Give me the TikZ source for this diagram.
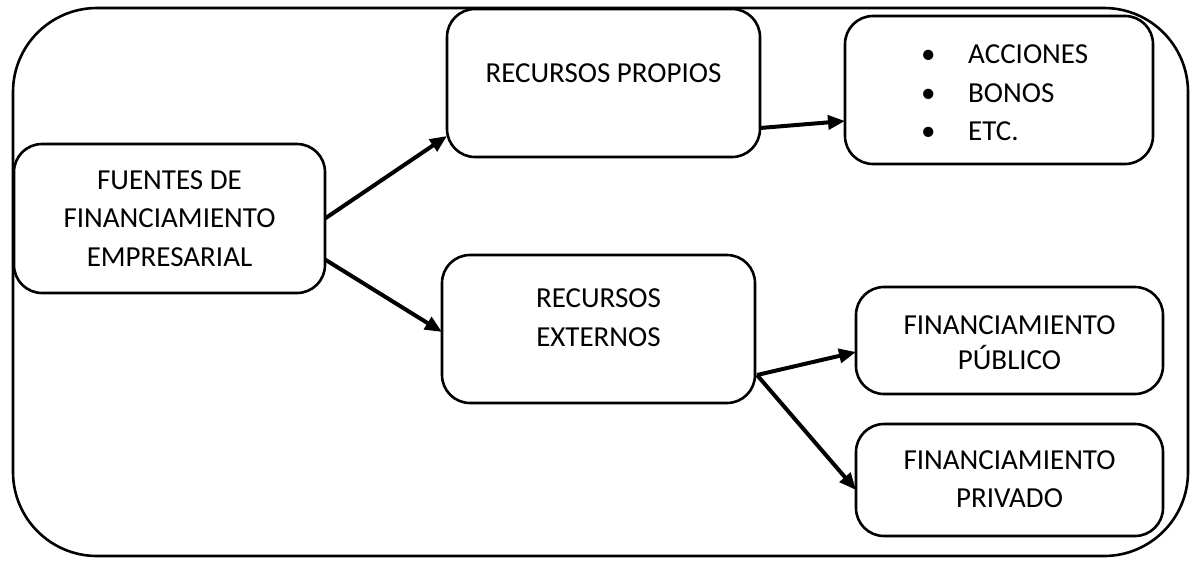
\documentclass[tikz,border=0pt]{standalone}
\usepackage{fontspec}
\setmainfont{Carlito}
\usetikzlibrary{arrows.meta,calc}
\begin{document}
\begin{tikzpicture}[x=1pt,y=-1pt,
  box/.style={draw,line width=2.6pt,rounded corners=28pt,inner sep=0pt,outer sep=0pt},
  txt/.style={align=center,font=\fontsize{29}{38.5}\selectfont,inner sep=0pt},
  conn/.style={line width=4pt,-{Triangle[length=17pt,width=14pt]}}]
\useasboundingbox (0,0) rectangle (1195,560);
\draw[line width=2.6pt,rounded corners=84pt] (13,8) rectangle (1188,556);
\node[box,minimum width=311pt,minimum height=149pt] (fuentes) at (169.5,218.5) {};
\node[box,minimum width=313pt,minimum height=148pt] (propios) at (603.5,83) {};
\node[box,minimum width=308pt,minimum height=148pt] (bullets) at (999,90) {};
\node[box,minimum width=313pt,minimum height=148pt] (externos) at (598.5,329) {};
\node[box,minimum width=307pt,minimum height=107pt] (publico) at (1009.5,340.5) {};
\node[box,minimum width=307pt,minimum height=112pt] (privado) at (1009.5,480) {};
\node[txt] (tfuentes) at (fuentes.center) {FUENTES DE\\FINANCIAMIENTO\\EMPRESARIAL};
\node[txt] (tpropios) at ([yshift=10pt]propios.center) {RECURSOS PROPIOS};
\node[txt] (texternos) at ([yshift=11.5pt]externos.center) {RECURSOS\\EXTERNOS};
\node[txt,font=\fontsize{29}{35}\selectfont] (tpublico) at ([yshift=-2pt]publico.center) {FINANCIAMIENTO\\PÚBLICO};
\node[txt,font=\fontsize{29}{38}\selectfont] (tprivado) at ([yshift=1pt]privado.center) {FINANCIAMIENTO\\PRIVADO};
\node[txt,align=left,anchor=west] (tbullets) at ([yshift=-3pt,xshift=76pt]bullets.west)
  {\makebox[47pt][l]{•}ACCIONES\\\makebox[47pt][l]{•}BONOS\\\makebox[47pt][l]{•}ETC.};
\draw[conn] (fuentes.east) -- ([yshift=-53pt]propios.west);
\draw[conn] ([yshift=-41pt]fuentes.east) -- ([yshift=-3pt]externos.west);
\draw[conn] ([yshift=-45pt]propios.east) -- ([yshift=-31pt]bullets.west);
\draw[conn] ([yshift=-46pt,xshift=2pt]externos.east) -- ([yshift=-11.5pt]publico.west);
\draw[conn] ([yshift=-46pt,xshift=2pt]externos.east) -- ([yshift=-10pt]privado.west);
\end{tikzpicture}
\end{document}
